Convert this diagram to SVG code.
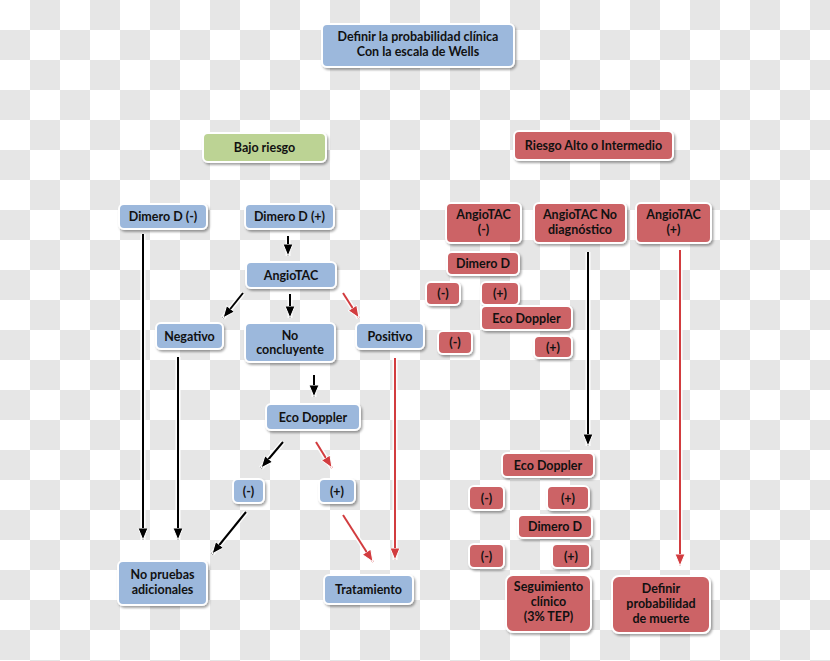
<svg xmlns="http://www.w3.org/2000/svg" width="830" height="661" viewBox="0 0 830 661">
<defs>
<pattern id="chk" width="60" height="60" patternUnits="userSpaceOnUse">
<rect width="60" height="60" fill="#ffffff"/>
<rect x="30" y="0" width="30" height="30" fill="#e6e6e6"/>
<rect x="0" y="30" width="30" height="30" fill="#e6e6e6"/>
</pattern>
<filter id="sh" x="-20%" y="-20%" width="140%" height="150%">
<feDropShadow dx="1.5" dy="2" stdDeviation="1.2" flood-color="#000" flood-opacity="0.35"/>
</filter>
<marker id="ab" markerUnits="userSpaceOnUse" markerWidth="14" markerHeight="14" refX="12" refY="5" orient="auto">
<path d="M0,0 L12,5 L0,10 Z" fill="#000" stroke="#fff" stroke-width="1"/>
</marker>
<marker id="ar" markerUnits="userSpaceOnUse" markerWidth="14" markerHeight="14" refX="12" refY="5" orient="auto">
<path d="M0,0 L12,5 L0,10 Z" fill="#d23c3f" stroke="#fff" stroke-width="1"/>
</marker>
</defs>
<style>
.bx{stroke:#fff;stroke-width:2;filter:url(#sh)}
.b{fill:#9cb8dc}
.g{fill:#bcd394}
.r{fill:#cc6366}
text{font-family:Lato,"Open Sans","Liberation Sans",sans-serif;font-weight:700;font-size:12.5px;fill:#111;text-anchor:middle}
.halo{stroke:#fff;stroke-width:5;fill:none;opacity:0.9}
.k{stroke:#000;stroke-width:2;fill:none;marker-end:url(#ab)}
.rd{stroke:#d23c3f;stroke-width:2;fill:none;marker-end:url(#ar)}
</style>
<rect width="830" height="661" fill="url(#chk)"/>

<g id="connectors">
<g class="halo">
<line x1="143" y1="234" x2="143" y2="540"/>
<line x1="178" y1="357" x2="178" y2="540"/>
<line x1="246" y1="512" x2="212" y2="554"/>
<line x1="288" y1="236" x2="288" y2="256"/>
<line x1="243" y1="293" x2="223" y2="318"/>
<line x1="290" y1="294" x2="290" y2="318"/>
<line x1="343" y1="293" x2="359" y2="318"/>
<line x1="314" y1="375" x2="314" y2="397"/>
<line x1="283" y1="442" x2="261" y2="468"/>
<line x1="316" y1="442" x2="332" y2="468"/>
<line x1="343" y1="515" x2="373" y2="562"/>
<line x1="395" y1="358" x2="395" y2="560"/>
<line x1="588" y1="252" x2="588" y2="446"/>
<line x1="680" y1="250" x2="680" y2="566"/>
</g>
<line class="k" x1="143" y1="234" x2="143" y2="540"/>
<line class="k" x1="178" y1="357" x2="178" y2="540"/>
<line class="k" x1="246" y1="512" x2="212" y2="554" stroke-width="2.5"/>
<line class="k" x1="288" y1="236" x2="288" y2="256"/>
<line class="k" x1="243" y1="293" x2="223" y2="318"/>
<line class="k" x1="290" y1="294" x2="290" y2="318"/>
<line class="rd" x1="343" y1="293" x2="359" y2="318"/>
<line class="k" x1="314" y1="375" x2="314" y2="397"/>
<line class="k" x1="283" y1="442" x2="261" y2="468"/>
<line class="rd" x1="316" y1="442" x2="332" y2="468"/>
<line class="rd" x1="343" y1="515" x2="373" y2="562" stroke-width="3"/>
<line class="rd" x1="395" y1="358" x2="395" y2="560"/>
<line class="k" x1="588" y1="252" x2="588" y2="446"/>
<line class="rd" x1="680" y1="250" x2="680" y2="566"/>
</g>

<g id="n-wells"><rect class="bx b" x="322" y="24" width="192" height="43" rx="5"/><text x="418" y="41">Definir la probabilidad clínica</text><text x="418" y="56">Con la escala de Wells</text></g>
<g id="n-bajo"><rect class="bx g" x="203" y="133" width="123" height="29" rx="5"/><text x="264.5" y="152">Bajo riesgo</text></g>
<g id="n-alto"><rect class="bx r" x="514" y="131" width="159" height="29" rx="5"/><text x="593.5" y="150">Riesgo Alto o Intermedio</text></g>

<g id="n-dneg"><rect class="bx b" x="119" y="204" width="88" height="25" rx="5"/><text x="163" y="221">Dimero D (-)</text></g>
<g id="n-dpos"><rect class="bx b" x="245" y="204" width="89" height="25" rx="5"/><text x="289.5" y="221">Dimero D (+)</text></g>
<g id="n-angio"><rect class="bx b" x="246" y="262" width="90" height="26" rx="5"/><text x="291" y="279.5">AngioTAC</text></g>
<g id="n-negativo"><rect class="bx b" x="156" y="323" width="67" height="26" rx="5"/><text x="189.5" y="340.5">Negativo</text></g>
<g id="n-noconc"><rect class="bx b" x="245" y="323" width="90" height="39" rx="5"/><text x="290" y="340">No</text><text x="290" y="354">concluyente</text></g>
<g id="n-positivo"><rect class="bx b" x="356" y="323" width="68" height="26" rx="5"/><text x="390" y="340.5">Positivo</text></g>
<g id="n-eco"><rect class="bx b" x="266" y="404" width="94" height="26" rx="5"/><text x="313" y="421.5">Eco Doppler</text></g>
<g id="n-econeg"><rect class="bx b" x="233" y="479" width="31" height="24" rx="5"/><text x="248.5" y="495.5">(-)</text></g>
<g id="n-ecopos"><rect class="bx b" x="319" y="479" width="36" height="24" rx="5"/><text x="337" y="495.5">(+)</text></g>
<g id="n-nopruebas"><rect class="bx b" x="118" y="561" width="89" height="44" rx="5"/><text x="162.5" y="579">No pruebas</text><text x="162.5" y="594">adicionales</text></g>
<g id="n-trat"><rect class="bx b" x="324" y="575" width="89" height="29" rx="5"/><text x="368.5" y="593.5">Tratamiento</text></g>

<g id="n-angioneg"><rect class="bx r" x="446" y="203" width="75" height="40" rx="5"/><text x="483.5" y="219">AngioTAC</text><text x="483.5" y="234">(-)</text></g>
<g id="n-angiond"><rect class="bx r" x="534" y="203" width="92" height="40" rx="5"/><text x="580" y="219">AngioTAC No</text><text x="580" y="234">diagnóstico</text></g>
<g id="n-angiopos"><rect class="bx r" x="636" y="203" width="75" height="40" rx="5"/><text x="673.5" y="219">AngioTAC</text><text x="673.5" y="234">(+)</text></g>
<g id="n-rdim1"><rect class="bx r" x="447" y="252" width="72" height="23" rx="5"/><text x="483" y="268">Dimero D</text></g>
<g id="n-rdim1neg"><rect class="bx r" x="426" y="282" width="34" height="23" rx="5"/><text x="443" y="298">(-)</text></g>
<g id="n-rdim1pos"><rect class="bx r" x="481" y="282" width="38" height="23" rx="5"/><text x="500" y="298">(+)</text></g>
<g id="n-reco1"><rect class="bx r" x="481" y="306" width="91" height="24" rx="5"/><text x="526.5" y="322.5">Eco Doppler</text></g>
<g id="n-reco1neg"><rect class="bx r" x="438" y="331" width="34" height="23" rx="5"/><text x="455" y="347">(-)</text></g>
<g id="n-reco1pos"><rect class="bx r" x="534" y="336" width="38" height="22" rx="5"/><text x="553" y="351.5">(+)</text></g>
<g id="n-reco2"><rect class="bx r" x="502" y="453" width="92" height="24" rx="5"/><text x="548" y="469.5">Eco Doppler</text></g>
<g id="n-reco2neg"><rect class="bx r" x="469" y="486" width="35" height="24" rx="5"/><text x="486.5" y="502.5">(-)</text></g>
<g id="n-reco2pos"><rect class="bx r" x="547" y="486" width="42" height="24" rx="5"/><text x="568" y="502.5">(+)</text></g>
<g id="n-rdim2"><rect class="bx r" x="518" y="515" width="74" height="23" rx="5"/><text x="555" y="531">Dimero D</text></g>
<g id="n-rdim2neg"><rect class="bx r" x="469" y="544" width="35" height="24" rx="5"/><text x="486.5" y="560.5">(-)</text></g>
<g id="n-rdim2pos"><rect class="bx r" x="552" y="544" width="38" height="24" rx="5"/><text x="571" y="560.5">(+)</text></g>
<g id="n-seguimiento"><rect class="bx r" x="506" y="575" width="85" height="57" rx="7"/><text x="548.5" y="591">Seguimiento</text><text x="548.5" y="606">clínico</text><text x="548.5" y="621">(3% TEP)</text></g>
<g id="n-muerte"><rect class="bx r" x="612" y="576" width="98" height="57" rx="7"/><text x="661" y="593">Definir</text><text x="661" y="608">probabilidad</text><text x="661" y="623">de muerte</text></g>
</svg>
